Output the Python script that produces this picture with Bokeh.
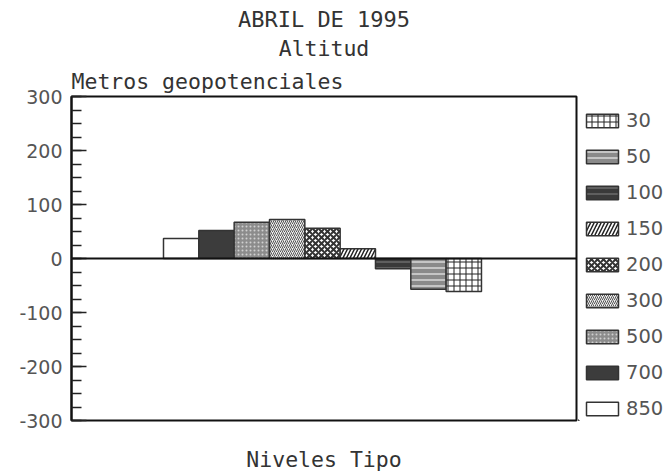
from bokeh.plotting import figure
from bokeh.layouts import row
from bokeh.models import Range1d, FixedTicker, Span, Title, Legend, LegendItem
from bokeh.embed import file_html
from bokeh.resources import INLINE

# ---- data ----
levels = ["850", "700", "500", "300", "200", "150", "100", "50", "30"]
values = [37, 52, 67, 72, 56, 18, -19, -57, -61]
legend_order = ["30", "50", "100", "150", "200", "300", "500", "700", "850"]
y_ticks = [-300, -200, -100, 0, 100, 200, 300]
y_minor = list(range(-300, 301, 25))

title1 = "ABRIL DE 1995"
title2 = "Altitud"
ylabel = "Metros geopotenciales"
xlabel = "Niveles Tipo"

# ---- styles ----
styles = {
    "30":  dict(fill_color="white", hatch_pattern="+", hatch_color="#222222", hatch_scale=6, hatch_weight=1),
    "50":  dict(fill_color="#8a8a8a", hatch_pattern="-", hatch_color="#d8d8d8", hatch_scale=6, hatch_weight=1.5),
    "100": dict(fill_color="#3a3a3a", hatch_pattern="-", hatch_color="#6a6a6a", hatch_scale=6, hatch_weight=1.5),
    "150": dict(fill_color="white", hatch_pattern="/", hatch_color="#222222", hatch_scale=7, hatch_weight=1.5),
    "200": dict(fill_color="white", hatch_pattern="x", hatch_color="#333333", hatch_scale=6, hatch_weight=2),
    "300": dict(fill_color="#eeeeee", hatch_pattern="/", hatch_color="#555555", hatch_scale=4, hatch_weight=1),
    "500": dict(fill_color="#8c8c8c", hatch_pattern=".", hatch_color="#d0d0d0", hatch_scale=4, hatch_weight=1.5),
    "700": dict(fill_color="#3c3c3c"),
    "850": dict(fill_color="white"),
}

MONO = "DejaVu Sans Mono"
SANS = "DejaVu Sans"

bar_w = 35.33
frame_w = 505
x_max = frame_w / bar_w
x_start = 3.104

p = figure(width=578, height=474, output_backend="svg", toolbar_location=None,
           x_range=Range1d(0, x_max), y_range=Range1d(-300, 300),
           min_border_left=71, min_border_right=2, min_border_top=96, min_border_bottom=53)
p.background_fill_color = "white"
p.border_fill_color = "white"
p.outline_line_color = "#111111"
p.outline_line_width = 2
p.xgrid.visible = False
p.ygrid.visible = False

for i, (lv, v) in enumerate(zip(levels, values)):
    p.vbar(x=[x_start + i], top=[v], bottom=[0], width=1.0,
           line_color="#333333", line_width=1.5, **styles[lv])

p.add_layout(Span(location=0, dimension="width", line_color="#111111", line_width=2))

# y axis
ya = p.yaxis[0]
ya.ticker = FixedTicker(ticks=y_ticks, minor_ticks=y_minor)
ya.major_label_overrides = {t: str(t) for t in y_ticks}
ya.major_tick_in = 15
ya.major_tick_out = 0
ya.minor_tick_in = 10
ya.minor_tick_out = 0
ya.major_tick_line_width = 1.5
ya.minor_tick_line_width = 1.5
ya.major_tick_line_color = "#222222"
ya.minor_tick_line_color = "#222222"
ya.axis_line_width = 2
ya.axis_line_color = "#111111"
ya.major_label_standoff = 9
ya.major_label_text_font = SANS
ya.major_label_text_font_size = "19px"
ya.major_label_text_color = "#555555"

# x axis
xa = p.xaxis[0]
xa.ticker = FixedTicker(ticks=[])
xa.axis_line_color = None
xa.major_tick_line_color = None
xa.minor_tick_line_color = None
xa.major_label_text_font_size = "0px"
xa.major_label_standoff = 0
xa.axis_label = xlabel
xa.axis_label_standoff = 26
xa.axis_label_text_font = MONO
xa.axis_label_text_font_size = "21.5px"
xa.axis_label_text_font_style = "normal"
xa.axis_label_text_color = "#333333"

# titles (first added = closest to the frame, p.title = outermost)
t_y = Title(text=ylabel, align="left", text_font=MONO, text_font_size="21.5px",
            text_font_style="normal", text_color="#333333", standoff=6)
p.add_layout(t_y, "above")
t2 = Title(text=title2, align="center", text_font=MONO, text_font_size="21.5px",
           text_font_style="normal", text_color="#333333", standoff=5)
p.add_layout(t2, "above")
p.title.text = title1
p.title.align = "center"
p.title.text_font = MONO
p.title.text_font_size = "22px"
p.title.text_font_style = "normal"
p.title.text_color = "#333333"
p.title.standoff = 0

# ---- legend panel (separate canvas to the right of the frame) ----
lg = figure(width=91, height=474, output_backend="svg", toolbar_location=None, title=None,
            x_range=Range1d(0, 1), y_range=Range1d(0, 1),
            min_border_left=0, min_border_right=0, min_border_top=0, min_border_bottom=0)
lg.axis.visible = False
lg.xgrid.visible = False
lg.ygrid.visible = False
lg.outline_line_color = None
lg.background_fill_color = "white"
lg.border_fill_color = "white"

# proxy renderers (outside the visible range) that only feed the legend swatches
dummy = {}
for lv in legend_order:
    dummy[lv] = lg.vbar(x=[-5], top=[-5], bottom=[-6], width=1.0,
                        line_color="#333333", line_width=1.5, **styles[lv])

legend = Legend(items=[LegendItem(label=lv, renderers=[dummy[lv]]) for lv in legend_order],
                location=(4, 0), orientation="vertical",
                glyph_width=40, glyph_height=17, label_height=14, label_standoff=4,
                spacing=13, padding=0, margin=0,
                border_line_color=None, background_fill_alpha=0,
                label_text_font=SANS, label_text_font_size="19.5px", label_text_color="#555555")
lg.add_layout(legend)

open("out.html", "w").write(file_html(row(p, lg), INLINE))
